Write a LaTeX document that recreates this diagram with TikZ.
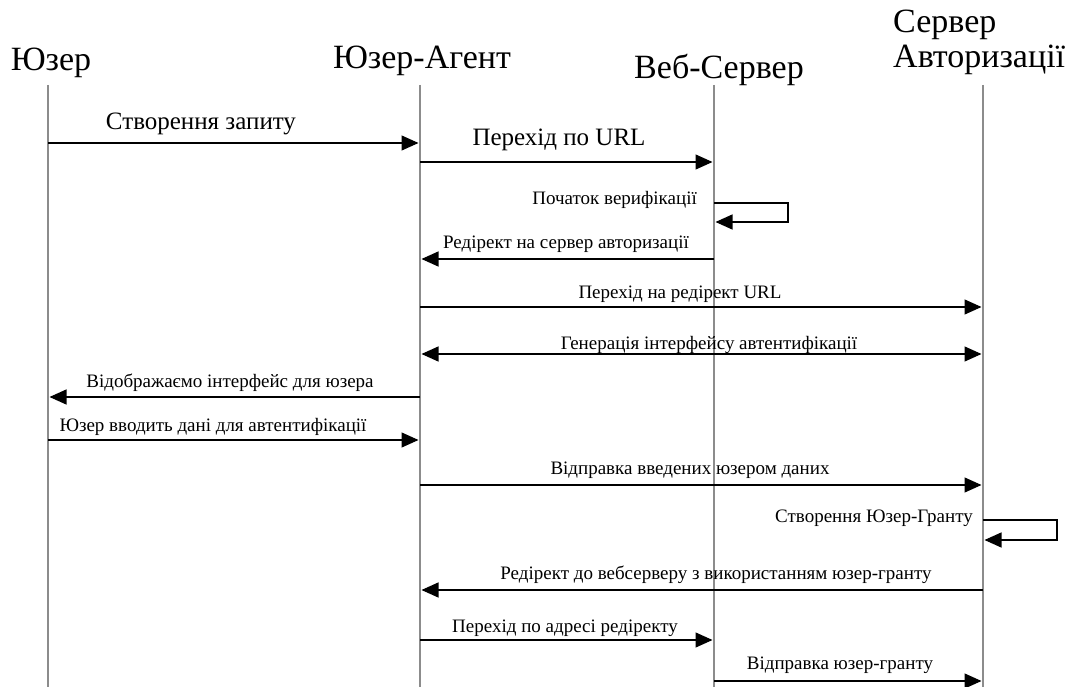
\documentclass[tikz,border=0pt]{standalone}
\usepackage{fontspec}
\setmainfont{Liberation Serif}
\usetikzlibrary{arrows.meta}
\begin{document}
\begin{tikzpicture}[x=1pt,y=-1pt,
  life/.style={draw=black!45, line width=1.4pt},
  msg/.style={draw=black, line width=1.2pt, -{Triangle[length=17pt,width=15pt]}, shorten >=1.5pt},
  dmsg/.style={draw=black, line width=1.2pt, {Triangle[length=17pt,width=15pt]}-{Triangle[length=17pt,width=15pt]}, shorten >=1.5pt, shorten <=1.5pt},
  head/.style={font=\fontsize{34}{40}\selectfont, anchor=base, inner sep=0pt},
  big/.style={font=\fontsize{25}{29}\selectfont, anchor=base, inner sep=0pt},
  small/.style={font=\fontsize{19}{22}\selectfont, anchor=base, inner sep=0pt}]
\useasboundingbox (0,0) rectangle (1072,687);
\fill[white] (0,0) rectangle (1072,687);

% headers
\node[head] (hU) at (51,71) {Юзер};
\node[head] (hA) at (422,69) {Юзер-Агент};
\node[head] (hW) at (719,79) {Веб-Сервер};
\node[head, anchor=base west] (hS1) at (893,33) {Сервер};
\node[head, anchor=base west] (hS2) at (893,68) {Авторизації};

% lifelines
\coordinate (uT) at (48,85);  \coordinate (uB) at (48,687);
\coordinate (aT) at (420,85); \coordinate (aB) at (420,687);
\coordinate (wT) at (714,85); \coordinate (wB) at (714,687);
\coordinate (sT) at (983,85); \coordinate (sB) at (983,687);
\draw[life] (uT) -- (uB);
\draw[life] (aT) -- (aB);
\draw[life] (wT) -- (wB);
\draw[life] (sT) -- (sB);

% 1
\draw[msg] (uT |- 0,143) -- (aT |- 0,143);
\node[big] (l1) at (201,130) {Створення запиту};
% 2
\draw[msg] (aT |- 0,162) -- (wT |- 0,162);
\node[big] (l2) at (559,146) {Перехід по URL};
% 3 self
\draw[msg] (wT |- 0,203) -- (788,203) |- (wT |- 0,222);
\node[small, anchor=base east] (l3) at (697,205) {Початок верифікації};
% 4
\draw[msg] (wT |- 0,259) -- (aT |- 0,259);
\node[small] (l4) at (566,249) {Редірект на сервер авторизації};
% 5
\draw[msg] (aT |- 0,307) -- (sT |- 0,307);
\node[small] (l5) at (680,299) {Перехід на редірект URL};
% 6
\draw[dmsg] (aT |- 0,354) -- (sT |- 0,354);
\node[small] (l6) at (709,349) {Генерація інтерфейсу автентифікації};
% 7
\draw[msg] (aT |- 0,397) -- (uT |- 0,397);
\node[small] (l7) at (230,387) {Відображаємо інтерфейс для юзера};
% 8
\draw[msg] (uT |- 0,440) -- (aT |- 0,440);
\node[small] (l8) at (213,431) {Юзер вводить дані для автентифікації};
% 9
\draw[msg] (aT |- 0,485) -- (sT |- 0,485);
\node[small] (l9) at (690,474) {Відправка введених юзером даних};
% 10 self
\draw[msg] (sT |- 0,520) -- (1057,520) |- (sT |- 0,540);
\node[small, anchor=base east] (l10) at (973,522) {Створення Юзер-Гранту};
% 11
\draw[msg] (sT |- 0,590) -- (aT |- 0,590);
\node[small] (l11) at (716,579) {Редірект до вебсерверу з використанням юзер-гранту};
% 12
\draw[msg] (aT |- 0,640) -- (wT |- 0,640);
\node[small] (l12) at (565,632) {Перехід по адресі редіректу};
% 13
\draw[msg] (wT |- 0,681) -- (sT |- 0,681);
\node[small] (l13) at (840,669) {Відправка юзер-гранту};
\end{tikzpicture}
\end{document}
